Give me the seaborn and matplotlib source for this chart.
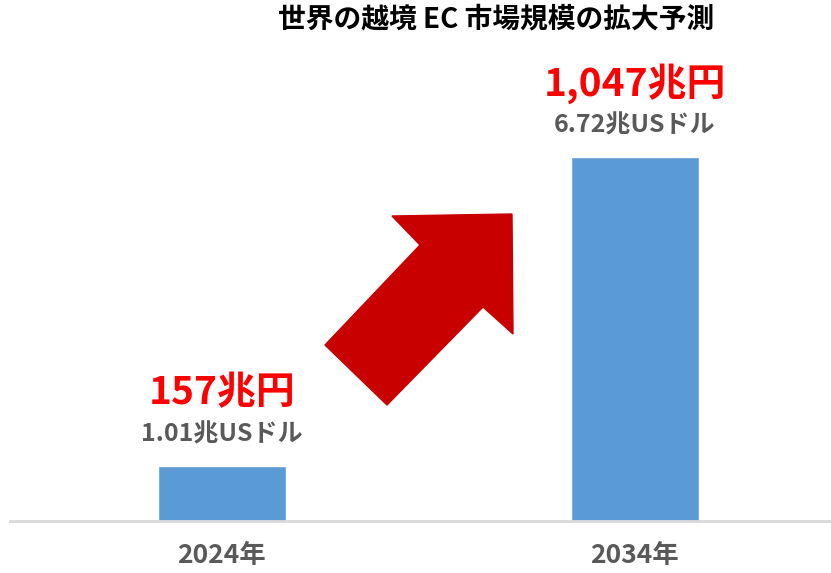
import matplotlib
matplotlib.use("Agg")
import matplotlib.pyplot as plt
import matplotlib.patches as mpatches
import seaborn as sns
import pandas as pd

# data
years = ["2024年", "2034年"]
usd_trillion = [1.01, 6.72]
usd_labels = ["1.01兆USドル", "6.72兆USドル"]
jpy_labels = ["157兆円", "1,047兆円"]
title = "世界の越境 EC 市場規模の拡大予測"

sns.set_style("white")
plt.rcParams['font.family'] = ['Noto Sans CJK JP', 'DejaVu Sans']

df = pd.DataFrame({"year": years, "usd": usd_trillion})

fig = plt.figure(figsize=(8.31, 5.73), dpi=100)
ax = fig.add_axes([10/831, 52/573, 821/831, 521/573])

sns.barplot(data=df, x="year", y="usd", color="#5B9BD5", width=0.31,
            saturation=1, ax=ax)

ax.set_xlim(-0.513, 1.475)
ax.set_ylim(0, 9.62)
ax.set_xlabel("")
ax.set_ylabel("")
ax.set_yticks([])
for s in ["top", "left", "right"]:
    ax.spines[s].set_visible(False)
ax.spines["bottom"].set_color("#D9D9D9")
ax.spines["bottom"].set_linewidth(2)
ax.tick_params(axis="x", length=0, pad=15, labelsize=19, labelcolor="#595959")
for lbl in ax.get_xticklabels():
    lbl.set_fontweight("bold")

for i, v in enumerate(usd_trillion):
    ax.annotate(usd_labels[i], xy=(i, v), xytext=(0, 23), textcoords="offset points",
                ha="center", va="center", fontsize=18, fontweight="bold",
                color="#595959")
    ax.annotate(jpy_labels[i], xy=(i, v), xytext=(0, 53), textcoords="offset points",
                ha="center", va="center", fontsize=28, fontweight="bold",
                color="#FF0000")

# big red arrow (decoration)
pts = [(325, 345), (387, 405), (483, 307), (513, 334), (512, 214),
       (392, 216), (420, 245)]
arrow = mpatches.Polygon([(x/831, 1 - y/573) for x, y in pts], closed=True,
                         transform=fig.transFigure, color="#C80000", zorder=5)
fig.patches.append(arrow)

fig.text(496/831, 1 - 19/573, title, ha="center", va="center",
         fontsize=20, fontweight="bold", color="black")

fig.savefig("out.png", dpi=100)
